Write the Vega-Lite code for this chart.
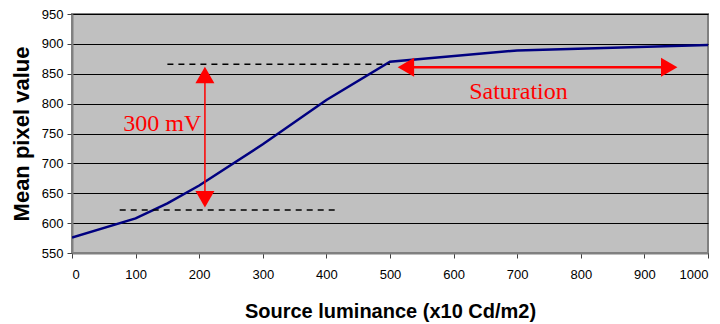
{
  "$schema": "https://vega.github.io/schema/vega-lite/v6.json",
  "width": 636,
  "height": 239,
  "autosize": {"type": "none"},
  "padding": {"left": 72, "top": 14, "right": 12, "bottom": 71},
  "background": "white",
  "config": {
    "view": {"fill": "#C0C0C0", "stroke": "#808080", "strokeWidth": 2},
    "axis": {
      "labelFont": "Liberation Sans",
      "labelFontSize": 13,
      "labelColor": "black",
      "labelOverlap": false,
      "titleFont": "Liberation Sans",
      "titleFontWeight": "bold",
      "titleColor": "black",
      "domainColor": "#808080",
      "domainWidth": 2,
      "tickColor": "#404040",
      "tickSize": 5
    }
  },
  "datasets": {
    "curve": [
      {"lum": 0, "val": 576},
      {"lum": 100, "val": 608},
      {"lum": 150, "val": 633},
      {"lum": 200, "val": 663},
      {"lum": 300, "val": 732},
      {"lum": 400, "val": 806},
      {"lum": 500, "val": 870},
      {"lum": 700, "val": 889},
      {"lum": 1000, "val": 898}
    ],
    "dashes": [
      {"from": 150, "to": 500, "level": 866},
      {"from": 75, "to": 420, "level": 622}
    ],
    "vertArrow": [{"at": 209, "lo": 640, "hi": 848}],
    "horArrow": [{"from": 525, "to": 939, "level": 861}],
    "heads": [
      {"lum": 209, "val": 848, "shape": "triangle-up"},
      {"lum": 209, "val": 640, "shape": "triangle-down"},
      {"lum": 525, "val": 861, "shape": "triangle-left"},
      {"lum": 939, "val": 861, "shape": "triangle-right"}
    ],
    "notes": [
      {"lum": 142, "val": 766, "label": "300 mV"},
      {"lum": 702, "val": 820, "label": "Saturation"}
    ]
  },
  "layer": [
    {
      "data": {"name": "curve"},
      "mark": {"type": "line", "color": "#000080", "strokeWidth": 2.5, "clip": true},
      "encoding": {
        "x": {
          "field": "lum", "type": "quantitative",
          "scale": {"domain": [0, 1000], "nice": false},
          "axis": {"values": [0,100,200,300,400,500,600,700,800,900,1000], "tickCount": 12, "format": "d", "grid": false, "labelPadding": 10, "title": "Source luminance (x10 Cd/m2)", "titleFontSize": 20, "titlePadding": 20}
        },
        "y": {
          "field": "val", "type": "quantitative",
          "scale": {"domain": [550, 950], "nice": false, "zero": false},
          "axis": {"values": [550,600,650,700,750,800,850,900,950], "tickCount": 10, "grid": true, "gridColor": "black", "gridOpacity": 1, "gridWidth": 1, "labelPadding": 4, "title": "Mean pixel value", "titleFontSize": 22, "titlePadding": 8}
        }
      }
    },
    {
      "data": {"name": "dashes"},
      "mark": {"type": "rule", "color": "black", "strokeWidth": 1.6, "strokeDash": [6, 5]},
      "encoding": {
        "x": {"field": "from", "type": "quantitative"},
        "x2": {"field": "to"},
        "y": {"field": "level", "type": "quantitative"}
      }
    },
    {
      "data": {"name": "vertArrow"},
      "mark": {"type": "rule", "color": "red", "strokeWidth": 1.5},
      "encoding": {
        "x": {"field": "at", "type": "quantitative"},
        "y": {"field": "lo", "type": "quantitative"},
        "y2": {"field": "hi"}
      }
    },
    {
      "data": {"name": "horArrow"},
      "mark": {"type": "rule", "color": "red", "strokeWidth": 2.5},
      "encoding": {
        "x": {"field": "from", "type": "quantitative"},
        "x2": {"field": "to"},
        "y": {"field": "level", "type": "quantitative"}
      }
    },
    {
      "data": {"name": "heads"},
      "mark": {"type": "point", "filled": true, "color": "red", "opacity": 1, "size": 360, "strokeWidth": 0},
      "encoding": {
        "x": {"field": "lum", "type": "quantitative"},
        "y": {"field": "val", "type": "quantitative"},
        "shape": {"field": "shape", "type": "nominal", "scale": null}
      }
    },
    {
      "data": {"name": "notes"},
      "mark": {"type": "text", "color": "red", "font": "Liberation Serif", "fontSize": 24, "baseline": "middle", "align": "center"},
      "encoding": {
        "x": {"field": "lum", "type": "quantitative"},
        "y": {"field": "val", "type": "quantitative"},
        "text": {"field": "label"}
      }
    }
  ]
}
